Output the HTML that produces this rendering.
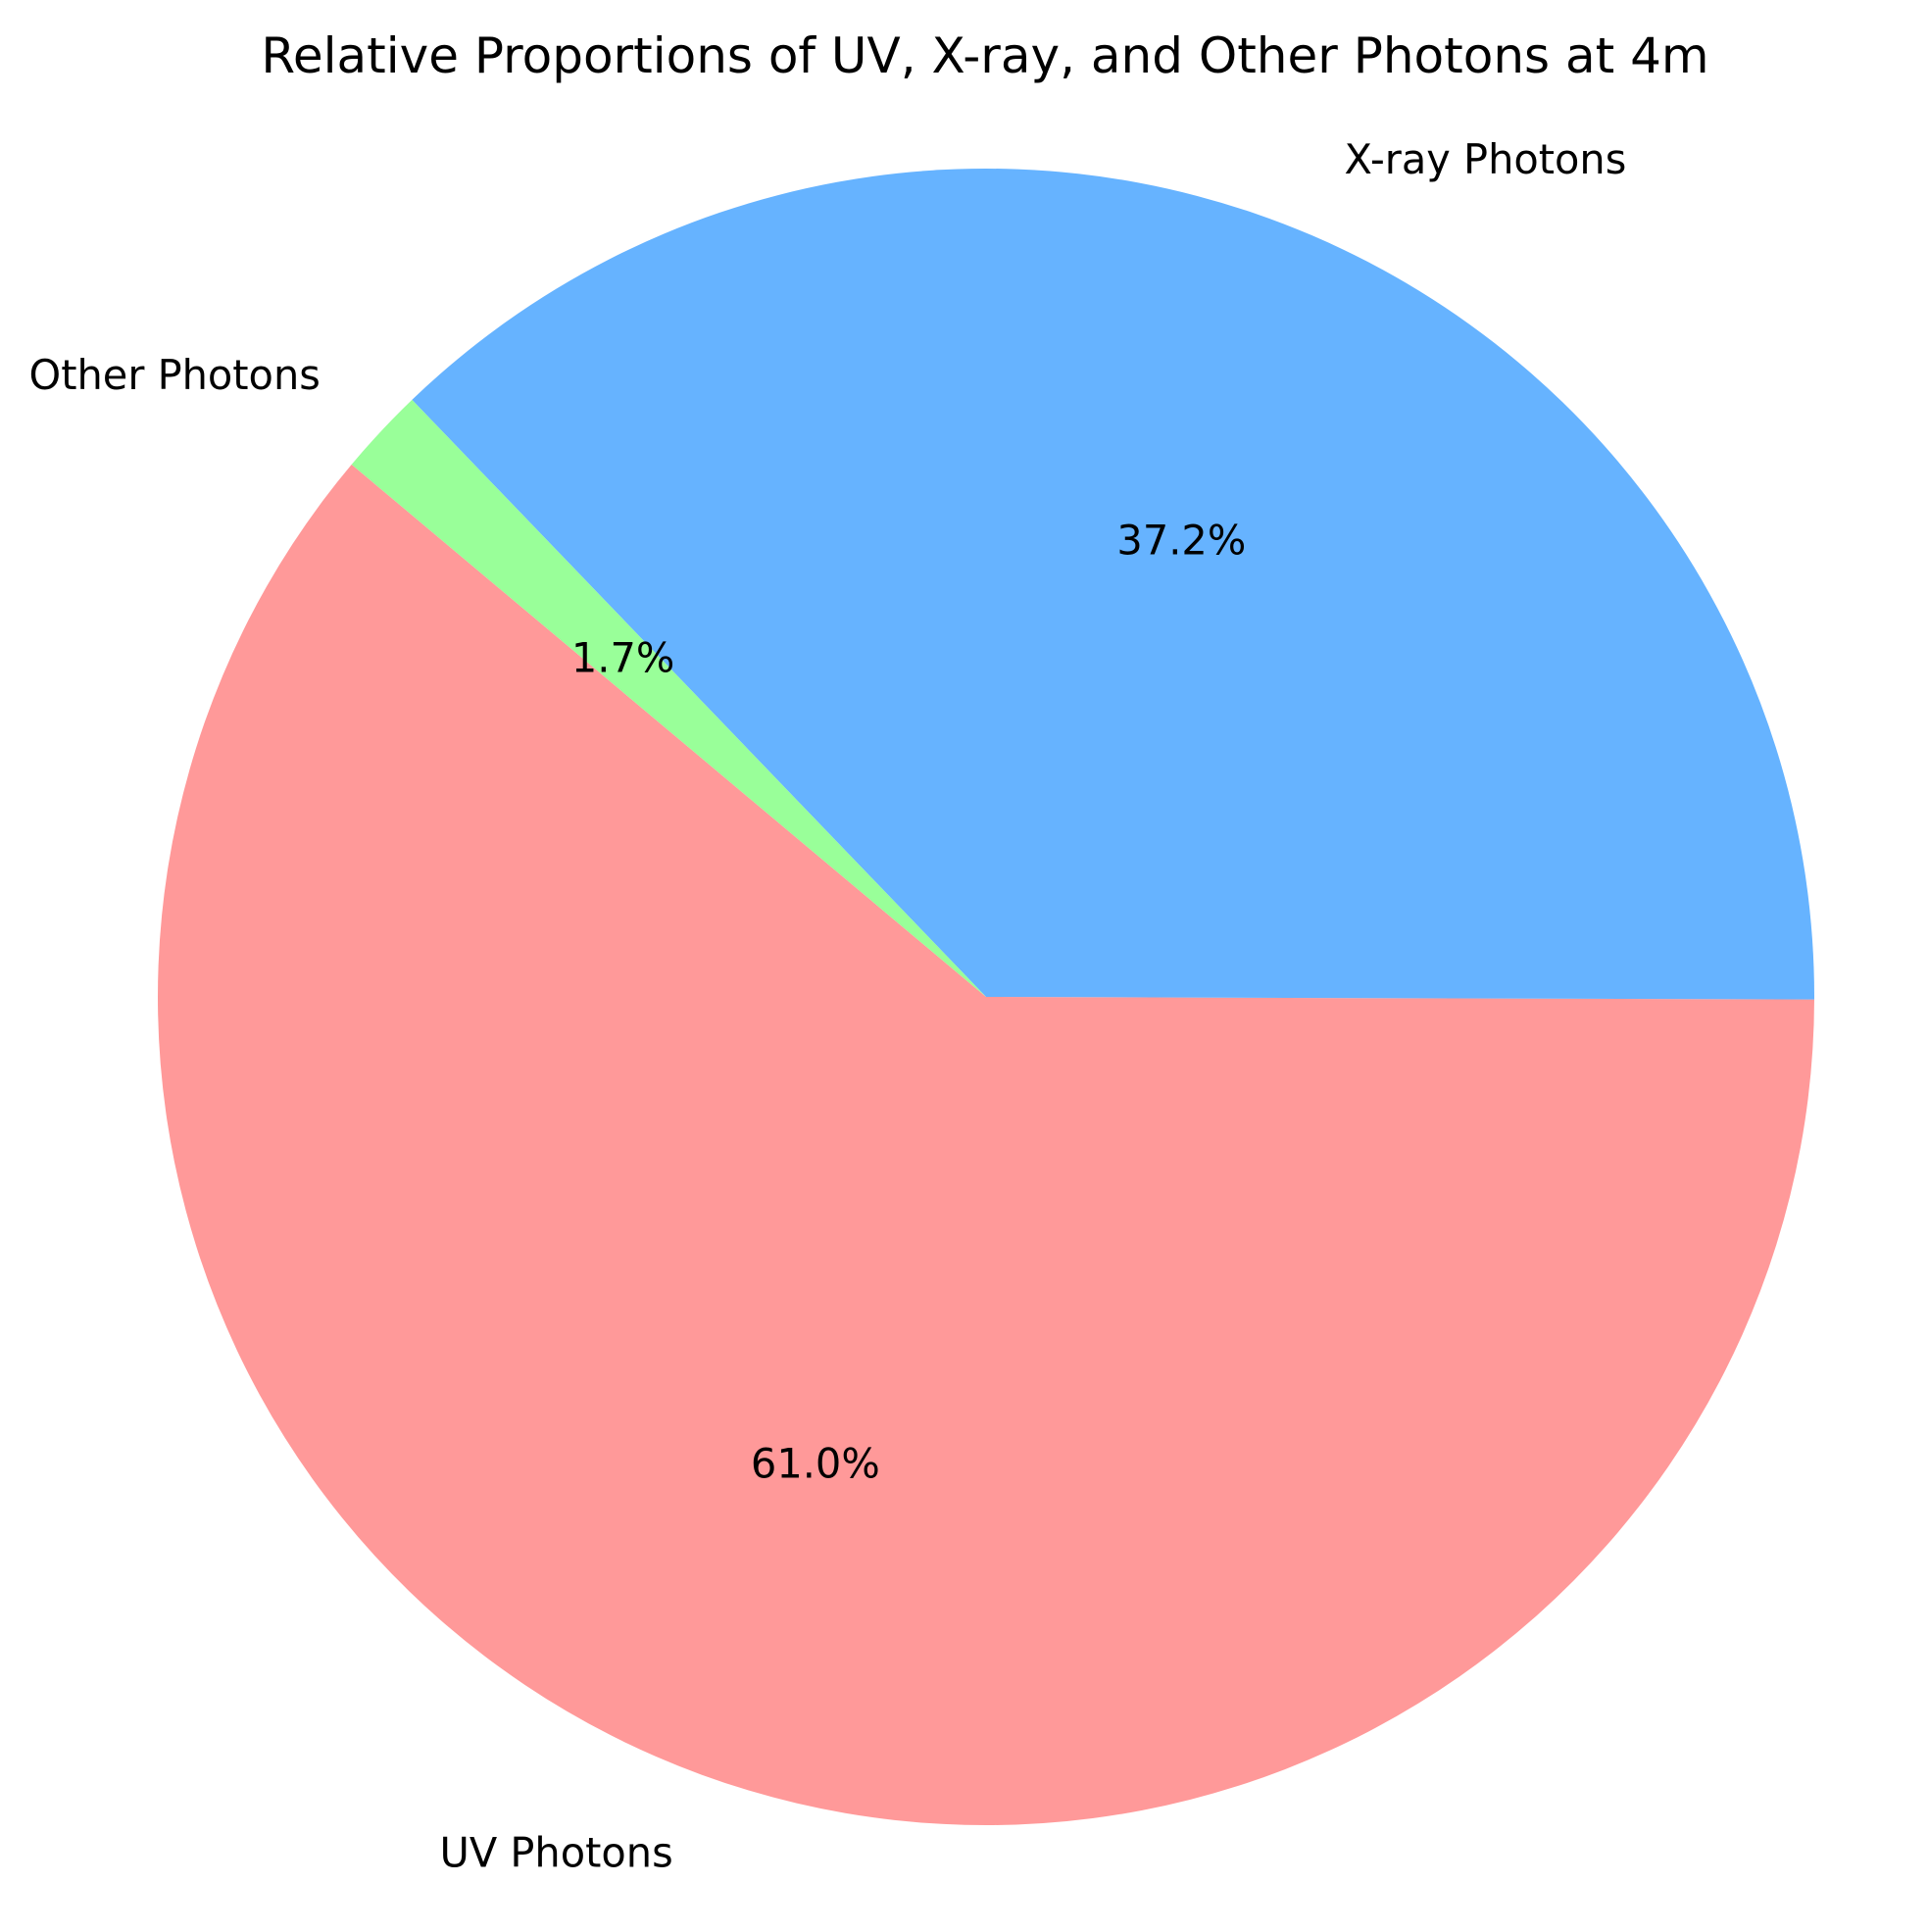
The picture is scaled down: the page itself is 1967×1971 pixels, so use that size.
<!DOCTYPE html>
<html><head><meta charset="utf-8"><style>
html,body{margin:0;padding:0;background:#fff;}
svg{display:block;font-family:"DejaVu Sans","Liberation Sans",sans-serif;}
</style></head><body>
<svg id="chart" width="1967" height="1971" viewBox="0 0 1967 1971">
<text x="1005" y="57" text-anchor="middle" dominant-baseline="central" font-size="50" fill="#000">Relative Proportions of UV, X-ray, and Other Photons at 4m</text>
<g id="slices"></g>
<g id="labels"></g>
</svg>
<script>
const categories = ["UV Photons", "X-ray Photons", "Other Photons"];
const values = [61.0, 37.2, 1.7];
const colors = ["#ff9999", "#66b3ff", "#99ff99"];
const startAngle = 140;

const cx = 1006, cy = 1017, R = 845;
const ns = "http://www.w3.org/2000/svg";
const total = values.reduce((a, b) => a + b, 0);
const sg = document.getElementById("slices");
const lg = document.getElementById("labels");
function pt(deg, r) { const a = deg * Math.PI / 180; return [cx + r * Math.cos(a), cy - r * Math.sin(a)]; }
let ang = startAngle;
values.forEach((v, i) => {
  const sweep = v / total * 360;
  const a0 = ang, a1 = ang + sweep;
  const p0 = pt(a0, R), p1 = pt(a1, R);
  const large = sweep > 180 ? 1 : 0;
  const path = document.createElementNS(ns, "path");
  path.setAttribute("d", `M${cx},${cy} L${p0[0]},${p0[1]} A${R},${R} 0 ${large} 0 ${p1[0]},${p1[1]} Z`);
  path.setAttribute("fill", colors[i]);
  
  
  sg.appendChild(path);
  const mid = (a0 + a1) / 2;
  const lp = pt(mid, R * 1.1);
  const t = document.createElementNS(ns, "text");
  t.setAttribute("x", lp[0]); t.setAttribute("y", lp[1]);
  t.setAttribute("font-size", "41.5");
  t.setAttribute("dominant-baseline", "central");
  t.setAttribute("text-anchor", Math.cos(mid * Math.PI / 180) >= 0 ? "start" : "end");
  t.textContent = categories[i];
  
  
  lg.appendChild(t);
  const pp = pt(mid, R * 0.6);
  const p = document.createElementNS(ns, "text");
  p.setAttribute("x", pp[0]); p.setAttribute("y", pp[1]);
  p.setAttribute("font-size", "41.5");
  p.setAttribute("dominant-baseline", "central");
  p.setAttribute("text-anchor", "middle");
  p.textContent = v.toFixed(1) + "%";
  
  
  lg.appendChild(p);
  ang = a1;
});
</script>
</body></html>
